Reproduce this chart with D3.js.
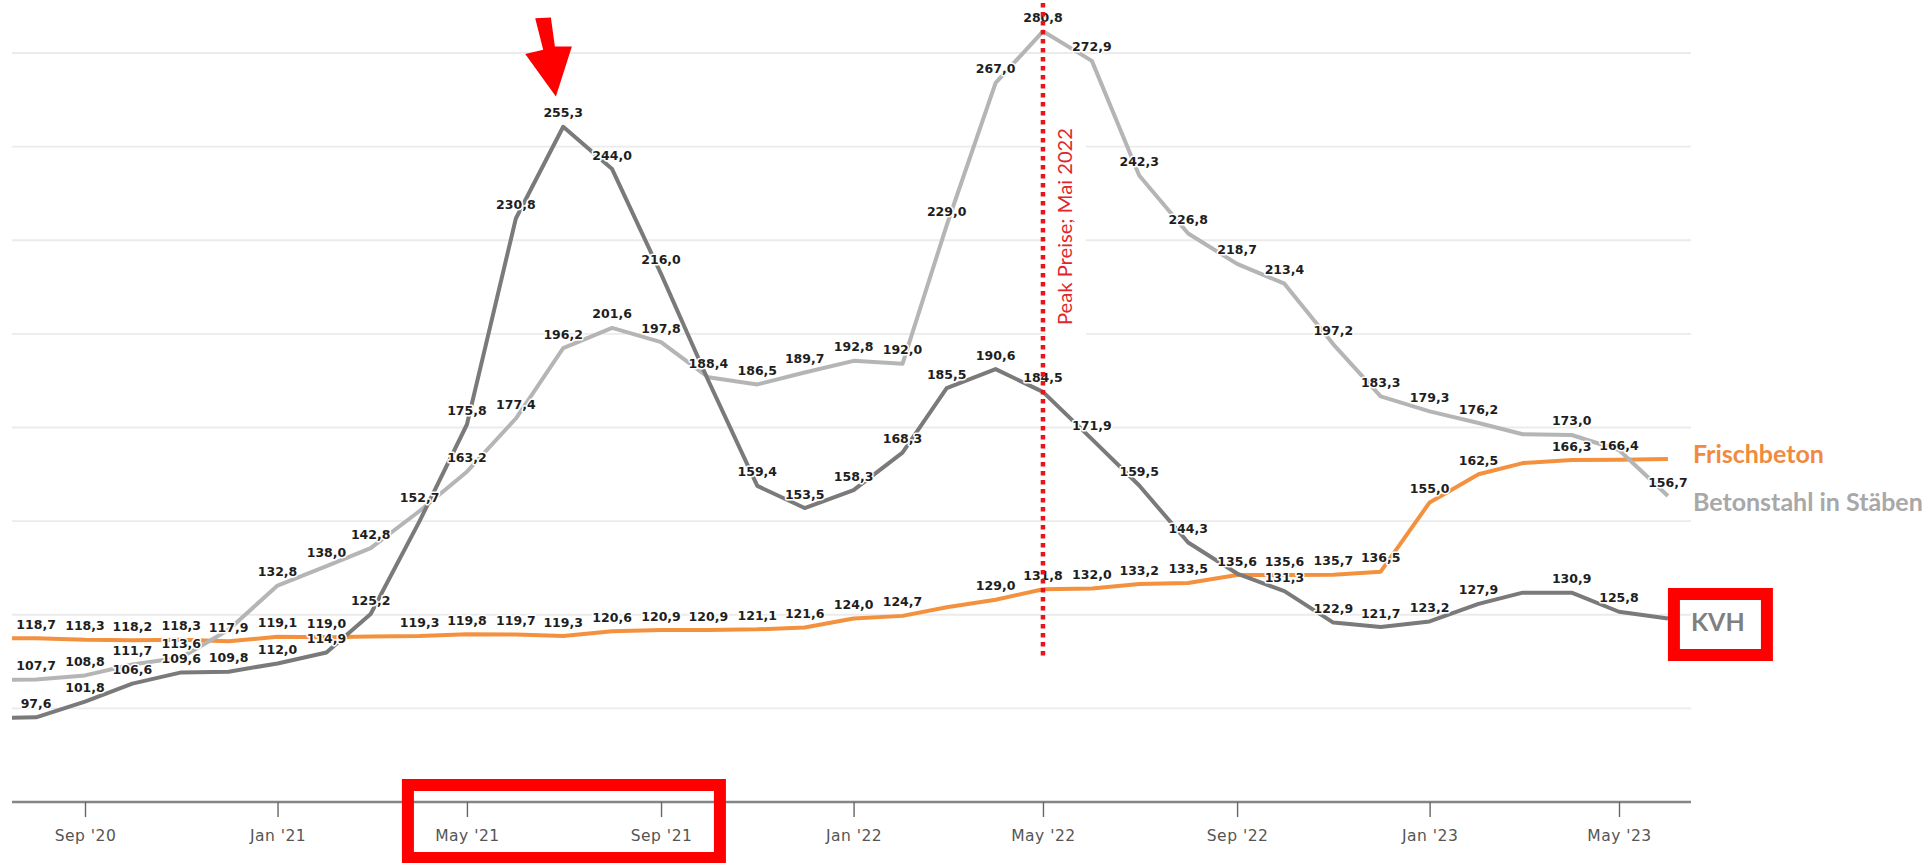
<!DOCTYPE html>
<html>
<head>
<meta charset="utf-8">
<script src="https://cdnjs.cloudflare.com/ajax/libs/d3/7.8.5/d3.min.js"></script>
<style>
  body { margin: 0; background: #fff; }
  .grid line { stroke: #ebebeb; stroke-width: 1.8; }
  .xaxis text { font-family: "DejaVu Sans", Verdana, sans-serif; font-size: 15.5px; letter-spacing: 0.5px; fill: #555; }
  .xaxis line { stroke: #666; stroke-width: 1.4; }
  .dlabel { font-family: "DejaVu Sans", Verdana, sans-serif; font-weight: bold; font-size: 12.5px;
            fill: #1e1e1e; stroke: #fff; stroke-width: 3px; stroke-linejoin: round; paint-order: stroke; }
</style>
</head>
<body>
<script>
// monthly index values, Jul 2020 - Jun 2023
var months = ["2020-07","2020-08","2020-09","2020-10","2020-11","2020-12",
              "2021-01","2021-02","2021-03","2021-04","2021-05","2021-06",
              "2021-07","2021-08","2021-09","2021-10","2021-11","2021-12",
              "2022-01","2022-02","2022-03","2022-04","2022-05","2022-06",
              "2022-07","2022-08","2022-09","2022-10","2022-11","2022-12",
              "2023-01","2023-02","2023-03","2023-04","2023-05","2023-06"];

var kvh = [97.4, 97.6, 101.8, 106.6, 109.6, 109.8,
           112.0, 114.9, 125.2, 150.0, 175.8, 230.8,
           255.3, 244.0, 216.0, 187.5, 159.4, 153.5,
           158.3, 168.3, 185.5, 190.6, 184.5, 171.9,
           159.5, 144.3, 136.0, 131.3, 122.9, 121.7,
           123.2, 127.9, 130.9, 130.9, 125.8, 124.0];

var betonstahl = [107.6, 107.7, 108.8, 111.7, 113.6, 121.0,
                  132.8, 138.0, 142.8, 152.7, 163.2, 177.4,
                  196.2, 201.6, 197.8, 188.4, 186.5, 189.7,
                  192.8, 192.0, 229.0, 267.0, 280.8, 272.9,
                  242.3, 226.8, 218.7, 213.4, 197.2, 183.3,
                  179.3, 176.2, 173.2, 173.0, 169.0, 156.7];

var frischbeton = [118.8, 118.7, 118.3, 118.2, 118.3, 117.9,
                   119.1, 119.0, 119.2, 119.3, 119.8, 119.7,
                   119.3, 120.6, 120.9, 120.9, 121.1, 121.6,
                   124.0, 124.7, 127.0, 129.0, 131.8, 132.0,
                   133.2, 133.5, 135.6, 135.6, 135.7, 136.5,
                   155.0, 162.5, 165.5, 166.3, 166.4, 166.6];

// months whose value label is not shown in the chart
var kvhHidden = ["2020-07","2021-04","2021-10","2022-09","2023-03","2023-06"];
var betonstahlHidden = ["2020-07","2020-12","2023-03","2023-05"];
var frischbetonHidden = ["2020-07","2021-03","2022-03","2023-03","2023-06"];

var xTicks = ["2020-09","2021-01","2021-05","2021-09","2022-01","2022-05","2022-09","2023-01","2023-05"];
var gridValues = [100, 125, 150, 175, 200, 225, 250, 275];
var peakMonth = "2022-05";

var width = 1931, height = 863;
var left = 12, right = 1691;

var parse = d3.timeParse("%Y-%m");
var de = d3.formatLocale({decimal: ",", thousands: ".", grouping: [3], currency: ["", " €"]});
var fmt = de.format(".1f");

var x = d3.scaleTime()
    .domain([parse("2020-09"), parse("2023-05")])
    .range([85, 1619]);
var y = d3.scaleLinear()
    .domain([75, 275])
    .range([802, 53]);

var svg = d3.select("body").append("svg")
    .attr("width", width)
    .attr("height", height);

svg.append("defs").append("clipPath").attr("id", "plot")
  .append("rect").attr("x", left).attr("y", 0).attr("width", right - left).attr("height", 802);

// gridlines
svg.append("g").attr("class", "grid")
  .selectAll("line").data(gridValues).enter().append("line")
    .attr("x1", left).attr("x2", right)
    .attr("y1", function(d){ return y(d); })
    .attr("y2", function(d){ return y(d); });

// white box behind the peak note
var px = x(parse(peakMonth));
svg.append("rect")
  .attr("x", px + 3).attr("y", 118).attr("width", 40).attr("height", 228)
  .attr("fill", "#fff");

// x axis
svg.append("line")
  .attr("x1", left).attr("x2", right).attr("y1", 802).attr("y2", 802)
  .attr("stroke", "#858585").attr("stroke-width", 2.5);

var xAxis = svg.append("g").attr("class", "xaxis")
  .attr("transform", "translate(0,802)")
  .call(d3.axisBottom(x)
    .tickValues(xTicks.map(parse))
    .tickFormat(d3.timeFormat("%b '%y"))
    .tickSize(15));
xAxis.select(".domain").remove();
xAxis.selectAll("text").attr("y", 39).attr("dy", 0);

var series = [
  {name: "Frischbeton", values: frischbeton, hidden: frischbetonHidden, color: "#f4913f"},
  {name: "Betonstahl in Stäben", values: betonstahl, hidden: betonstahlHidden, color: "#b5b5b5"},
  {name: "KVH", values: kvh, hidden: kvhHidden, color: "#7a7a7a"}
];

var line = d3.line()
    .x(function(d){ return x(d.date); })
    .y(function(d){ return y(d.value); });

series.forEach(function(s){
  s.points = months.map(function(m, i){
    return {month: m, date: parse(m), value: s.values[i]};
  });
});

var lines = svg.append("g").attr("clip-path", "url(#plot)");
series.forEach(function(s){
  lines.append("path")
    .datum(s.points)
    .attr("fill", "none")
    .attr("stroke", s.color)
    .attr("stroke-width", 4)
    .attr("stroke-linejoin", "round")
    .attr("d", line);
});

// value labels
var labels = svg.append("g");
series.forEach(function(s){
  labels.selectAll(null)
    .data(s.points.filter(function(p){ return s.hidden.indexOf(p.month) < 0; }))
    .enter().append("text")
      .attr("class", "dlabel")
      .attr("text-anchor", "middle")
      .attr("x", function(d){ return x(d.date); })
      .attr("y", function(d){ return y(d.value) - 9.5; })
      .text(function(d){ return fmt(d.value); });
});

// peak line and note
svg.append("line")
  .attr("x1", px).attr("x2", px).attr("y1", 3).attr("y2", 660)
  .attr("stroke", "#e8141b").attr("stroke-width", 4.5)
  .attr("stroke-dasharray", "4.5 4.5");

svg.append("text")
  .attr("transform", "translate(" + (px + 29) + ",325) rotate(-90)")
  .attr("font-family", "Lato, 'Open Sans', sans-serif")
  .attr("font-size", 20)
  .attr("fill", "#e2252b")
  .attr("textLength", 197)
  .attr("lengthAdjust", "spacingAndGlyphs")
  .text("Peak Preise; Mai 2022");

// arrow at the KVH peak
var kmax = d3.max(kvh);
var kp = series[2].points.find(function(p){ return p.value === kmax; });
var ax = x(kp.date), ay = y(kmax);
var arrow = [[-28,-108.5],[-12.3,-109.3],[-8.3,-80.3],[8.7,-80.3],[-7.3,-30.3],[-38,-72.7],[-20,-77]];
svg.append("path")
  .attr("d", "M" + arrow.map(function(p){ return (ax + p[0]) + "," + (ay + p[1]); }).join("L") + "Z")
  .attr("fill", "#ff0000");

// series names at the right end
var lastDate = parse(months[months.length - 1]);
var nameX = x(lastDate) + 25;
svg.append("text")
  .attr("x", nameX).attr("y", y(frischbeton[frischbeton.length - 1]) + 4)
  .attr("font-family", "Lato, sans-serif").attr("font-weight", "bold").attr("font-size", 25)
  .attr("fill", "#ef8a3f").text("Frischbeton");
svg.append("text")
  .attr("x", nameX).attr("y", y(betonstahl[betonstahl.length - 1]) + 15)
  .attr("font-family", "Lato, sans-serif").attr("font-weight", "bold").attr("font-size", 25)
  .attr("fill", "#a8a8a8").text("Betonstahl in Stäben");
svg.append("text")
  .attr("x", nameX - 2).attr("y", y(kvh[kvh.length - 1]) + 13)
  .attr("font-family", "Lato, sans-serif").attr("font-weight", "bold").attr("font-size", 25)
  .attr("fill", "#7f7f7f").text("KVH");

// red highlight boxes
svg.append("rect")
  .attr("x", nameX - 19).attr("y", 594).attr("width", 93).attr("height", 61)
  .attr("fill", "none").attr("stroke", "#ff0000").attr("stroke-width", 12);
svg.append("rect")
  .attr("x", x(parse("2021-05")) - 59).attr("y", 785).attr("width", 312).attr("height", 73)
  .attr("fill", "none").attr("stroke", "#ff0000").attr("stroke-width", 12);
</script>
</body>
</html>
